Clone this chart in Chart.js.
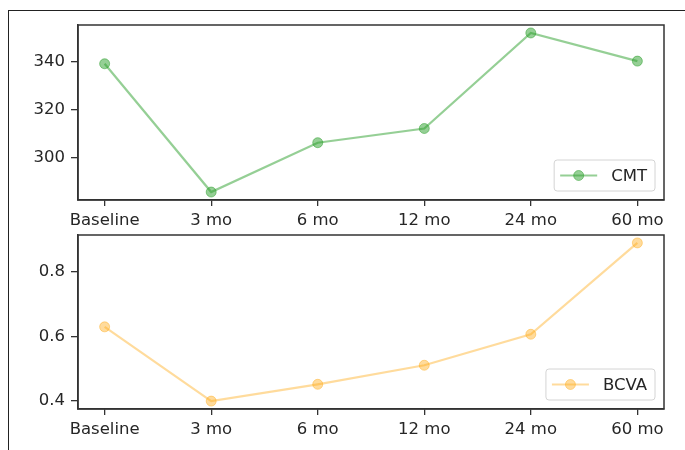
<!DOCTYPE html>
<html>
<head>
<meta charset="utf-8">
<script src="https://cdn.jsdelivr.net/npm/chart.js@4/dist/chart.umd.min.js"></script>
<style>
  html, body { margin: 0; padding: 0; background: #fff; }
  #page { position: relative; width: 685px; height: 450px; overflow: hidden; }
  #frameTop { position: absolute; left: 8px; top: 10px; width: 677px; height: 0; border-top: 1.5px solid #222; }
  #frameLeft { position: absolute; left: 8px; top: 10px; width: 0; height: 440px; border-left: 1.5px solid #222; }
  canvas { position: absolute; left: 0; }
  #cmtCanvas { top: 0; }
  #bcvaCanvas { top: 212px; }
</style>
</head>
<body>
<div id="page">
  <div id="frameTop"></div>
  <div id="frameLeft"></div>
  <canvas id="cmtCanvas" width="685" height="232"></canvas>
  <canvas id="bcvaCanvas" width="685" height="238"></canvas>
</div>
<script>
// Follow-up time points
const timepoints = ['Baseline', '3 mo', '6 mo', '12 mo', '24 mo', '60 mo'];

// Central macular thickness
const cmtValues = [339, 285.7, 306.2, 312.1, 351.8, 340.1];
const cmtTicks = [300, 320, 340];
const cmtTickLabels = ['300', '320', '340'];

// Best-corrected visual acuity
const bcvaValues = [0.63, 0.40, 0.452, 0.511, 0.607, 0.89];
const bcvaTicks = [0.4, 0.6, 0.8];
const bcvaTickLabels = ['0.4', '0.6', '0.8'];

const FONT = { family: 'DejaVu Sans', size: 16.5 };
const TEXT = '#262626';
const AXIS = '#333333';

// Box around the plot area plus an in-plot legend at the lower right
const framePlugin = {
  id: 'frameAndLegend',
  afterDatasetsDraw(chart) {
    const { ctx, chartArea: a } = chart;
    const ds = chart.data.datasets[0];
    ctx.save();
    // legend
    ctx.font = FONT.size + 'px ' + FONT.family;
    const tw = ctx.measureText(ds.label).width;
    const w = 6 + 37 + 14 + tw + 8, h = 31;
    const x = a.right - 9 - w, y = a.bottom - 9 - h;
    ctx.beginPath();
    ctx.roundRect(x, y, w, h, 3);
    ctx.fillStyle = 'rgba(255,255,255,0.8)';
    ctx.fill();
    ctx.strokeStyle = '#d4d4d4';
    ctx.lineWidth = 1;
    ctx.stroke();
    const cy = y + h / 2;
    ctx.beginPath();
    ctx.moveTo(x + 6, cy);
    ctx.lineTo(x + 43, cy);
    ctx.strokeStyle = ds.borderColor;
    ctx.lineWidth = ds.borderWidth;
    ctx.stroke();
    ctx.beginPath();
    ctx.arc(x + 24.5, cy, ds.pointRadius, 0, Math.PI * 2);
    ctx.fillStyle = ds.pointBackgroundColor;
    ctx.fill();
    ctx.strokeStyle = ds.pointBorderColor;
    ctx.lineWidth = ds.pointBorderWidth;
    ctx.stroke();
    ctx.fillStyle = TEXT;
    ctx.textBaseline = 'middle';
    ctx.fillText(ds.label, x + 57, cy + 1);
    // plot box
    ctx.strokeStyle = AXIS;
    ctx.lineWidth = 1.5;
    ctx.strokeRect(a.left, a.top, a.right - a.left, a.bottom - a.top);
    ctx.restore();
  }
};

function makeChart(id, label, values, ticks, tickLabels, rgb, alpha, pad, xHeight) {
  const lo = Math.min(...values), hi = Math.max(...values);
  const m = (hi - lo) * 0.05;
  const col = 'rgba(' + rgb + ',' + alpha + ')';
  return new Chart(document.getElementById(id), {
    type: 'line',
    data: {
      datasets: [{
        label: label,
        data: values.map((v, i) => ({ x: i, y: v })),
        borderColor: col,
        borderWidth: 2.2,
        pointRadius: 5,
        pointBackgroundColor: col,
        pointBorderColor: col,
        pointBorderWidth: 1,
        tension: 0
      }]
    },
    options: {
      responsive: false,
      animation: false,
      events: [],
      layout: { padding: { top: pad, right: 21, left: 0, bottom: 0 } },
      plugins: { legend: { display: false }, tooltip: { enabled: false } },
      scales: {
        x: {
          type: 'linear',
          min: -0.25,
          max: timepoints.length - 1 + 0.25,
          afterBuildTicks: s => { s.ticks = timepoints.map((_, i) => ({ value: i })); },
          afterFit: s => { s.height = xHeight; },
          ticks: {
            callback: v => timepoints[v],
            font: FONT, color: TEXT, padding: 5, maxRotation: 0, autoSkip: false
          },
          grid: { drawOnChartArea: false, drawTicks: true, tickLength: 6, color: AXIS, lineWidth: 1.3 },
          border: { display: true, color: AXIS, width: 1.5 }
        },
        y: {
          type: 'linear',
          min: lo - m,
          max: hi + m,
          afterBuildTicks: s => { s.ticks = ticks.map(v => ({ value: v })); },
          afterFit: s => { s.width = 78; },
          ticks: {
            callback: v => tickLabels[ticks.indexOf(v)],
            font: FONT, color: TEXT, padding: 6
          },
          grid: { drawOnChartArea: false, drawTicks: true, tickLength: 7, color: AXIS, lineWidth: 1.3 },
          border: { display: true, color: AXIS, width: 1.5 }
        }
      }
    },
    plugins: [framePlugin]
  });
}

makeChart('cmtCanvas', 'CMT', cmtValues, cmtTicks, cmtTickLabels, '44,160,44', 0.5, 25, 32);
makeChart('bcvaCanvas', 'BCVA', bcvaValues, bcvaTicks, bcvaTickLabels, '255,170,20', 0.42, 23, 41);
</script>
</body>
</html>
